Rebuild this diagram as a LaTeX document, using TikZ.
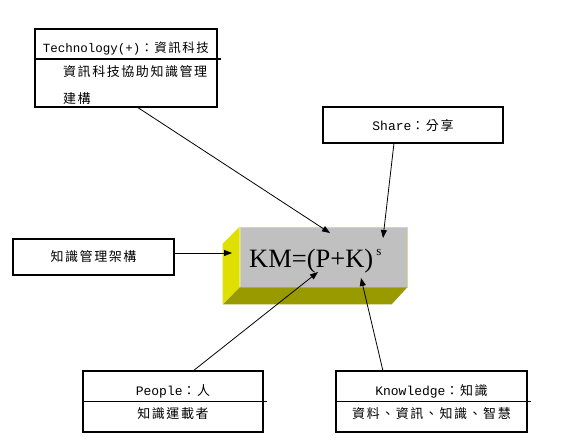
\documentclass[tikz,border=0pt]{standalone}
\usepackage{fontspec}
\setmainfont{Liberation Serif}
\setmonofont{Liberation Mono}
\newfontfamily\cjk[LetterSpace=12]{Noto Sans CJK TC}
\usepackage{tikz}
\usetikzlibrary{arrows.meta,positioning}
\definecolor{caraGris}{HTML}{C0C0C0}
\definecolor{ladoAmarillo}{HTML}{E0E000}
\definecolor{baseOliva}{HTML}{999900}
\definecolor{bordeClaro}{HTML}{D8D8A0}
\tikzset{
  caja/.style={rectangle, draw=black, line width=1.2pt, inner sep=0pt},
  regla/.style={draw=black, line width=1.2pt},
  titulo/.style={inner sep=0pt, font=\fontsize{13}{15}\ttfamily},
  texto/.style={inner sep=0pt, font=\fontsize{13}{15}\cjk},
  flecha/.style={-{Triangle[length=8pt,width=6pt]}, line width=0.8pt}
}

\begin{document}
\begin{tikzpicture}[x=1pt,y=-1pt]
  \useasboundingbox (0,0) rectangle (564,444);
  % bloque central
  \node[fill=caraGris, draw=bordeClaro, line width=0.6pt, inner sep=0pt,
        minimum width=167pt, minimum height=60pt] (km) at (323.5,257) {};
  \fill[ladoAmarillo] (km.north west) -- ++(-17,17) -- ++(0,60) -- (km.south west) -- cycle;
  \fill[baseOliva] (km.south west) -- ++(-17,17) -- ++(169,0) -- (km.south east) -- cycle;
  \node[anchor=base west, inner sep=0pt, font=\fontsize{26.5}{26}\selectfont] (kmT) at (249,267)
       {KM=(P+K)\hspace{3pt}\raisebox{12pt}{\fontsize{13}{13}\selectfont s}};

  % cajas
  \node[caja, minimum width=182pt, minimum height=78pt] (tech) at (126,68) {};
  \node[titulo, font=\fontsize{12.5}{15}\ttfamily] (techT) at (126,49) {Technology(+)\cjk：資訊科技};
  \draw[regla] ([yshift=9pt]tech.west) -- ([xshift=3pt,yshift=9pt]tech.east);
  \node[texto, anchor=west] (techL1) at (63,72) {資訊科技協助知識管理};
  \node[texto, anchor=west] (techL2) at (63,99) {建構};

  \node[caja, minimum width=180pt, minimum height=36pt] (share) at (413,125) {};
  \node[titulo] (shareT) at (413,126) {Share\cjk：分享};

  \node[caja, minimum width=161pt, minimum height=36pt] (mgmt) at (93.5,257) {};
  \node[texto] (mgmtT) at (93.5,257) {知識管理架構};

  \node[caja, minimum width=180pt, minimum height=61pt] (people) at (173,401.5) {};
  \node[titulo] (peopleT) at (173,391) {People\cjk：人};
  \draw[regla] (people.west) -- ([xshift=3pt]people.east);
  \node[texto] (peopleB) at (173,414) {知識運載者};

  \node[caja, minimum width=191pt, minimum height=61pt] (know) at (431.5,401.5) {};
  \node[titulo] (knowT) at (431.5,391) {Knowledge\cjk：知識};
  \draw[regla] (know.west) -- ([xshift=3pt]know.east);
  \node[texto] (knowB) at (431.5,414) {資料、資訊、知識、智慧};

  % flechas
  \coordinate (techOut) at (137,107);
  \coordinate (techIn) at (330,233);
  \coordinate (shareOut) at (394,143);
  \coordinate (shareIn) at (383,238);
  \coordinate (mgmtIn) at (232,253);
  \coordinate (peopleOut) at (193,371);
  \coordinate (peopleIn) at (318,272);
  \coordinate (knowOut) at (383,371);
  \coordinate (knowIn) at (361,278);
  \draw[flecha] (techOut) -- (techIn);
  \draw[flecha] (shareOut) -- (shareIn);
  \draw[flecha] (mgmt.east |- mgmtIn) -- (mgmtIn);
  \draw[flecha] (peopleOut) -- (peopleIn);
  \draw[flecha] (knowOut) -- (knowIn);
\end{tikzpicture}
\end{document}
